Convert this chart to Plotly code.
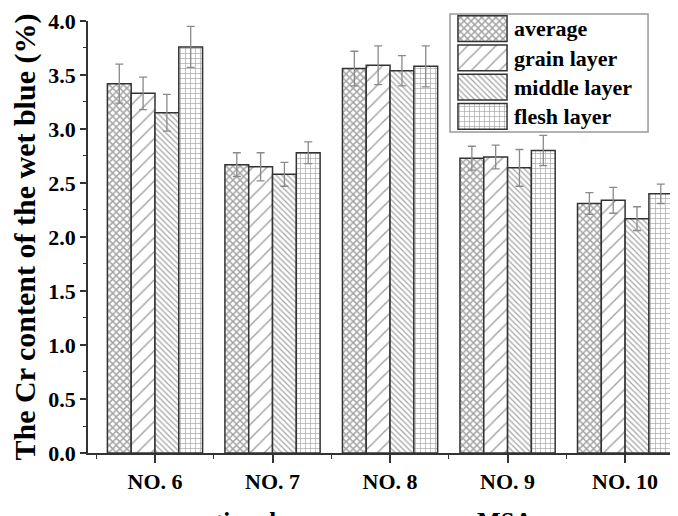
import plotly.graph_objects as go

categories = ["NO. 6", "NO. 7", "NO. 8", "NO. 9", "NO. 10"]
series_names = ["average", "grain layer", "middle layer", "flesh layer"]

average = [3.42, 2.67, 3.56, 2.73, 2.31]
average_err = [0.18, 0.11, 0.16, 0.11, 0.10]
grain = [3.33, 2.65, 3.59, 2.74, 2.34]
grain_err = [0.15, 0.13, 0.18, 0.11, 0.12]
middle = [3.15, 2.58, 3.54, 2.64, 2.17]
middle_err = [0.17, 0.11, 0.14, 0.17, 0.11]
flesh = [3.76, 2.78, 3.58, 2.80, 2.40]
flesh_err = [0.19, 0.10, 0.19, 0.14, 0.09]

group_labels = ["conventional", "MSA"]
group_centers = [0.45, 2.98]

values = [average, grain, middle, flesh]
errors = [average_err, grain_err, middle_err, flesh_err]
patterns = [
    dict(shape="x", size=5, solidity=0.5),
    dict(shape="/", size=10, solidity=0.15),
    dict(shape="\\", size=4, solidity=0.3),
    dict(shape="+", size=5, solidity=0.25),
]

FONT = "Liberation Serif"
xpos = list(range(len(categories)))

fig = go.Figure()
for name, vals, errs, pat in zip(series_names, values, errors, patterns):
    fig.add_trace(go.Bar(
        x=xpos, y=vals, name=name, showlegend=False,
        marker=dict(color="white", line=dict(color="#333333", width=1.5),
                    pattern=dict(fgcolor="#4a4a4a", bgcolor="white", **pat)),
        error_y=dict(type="data", array=errs, visible=True,
                     color="#8a8a8a", thickness=1.3, width=4),
    ))

# custom legend swatches
fig.add_trace(go.Bar(
    x=[1] * len(series_names), y=series_names, orientation="h", base=0,
    width=0.88, showlegend=False, xaxis="x2", yaxis="y2", hoverinfo="skip",
    marker=dict(color="white", line=dict(color="#333333", width=1.5),
                pattern=dict(fgcolor="#4a4a4a", bgcolor="white",
                             shape=[p["shape"] for p in patterns],
                             size=[p["size"] for p in patterns],
                             solidity=[p["solidity"] for p in patterns])),
))

axis_font = dict(family=FONT, size=22, color="black", weight="bold")

# page body has an 8px margin, so the figure is sized/offset to compensate
fig.update_layout(
    width=670, height=508,
    margin=dict(l=80, r=0, t=0, b=63),
    paper_bgcolor="white", plot_bgcolor="white",
    barmode="group", bargap=0.19, bargroupgap=0,
    font=dict(family=FONT, color="black"),
    xaxis=dict(
        automargin=False,
        range=[-0.57, 4.45], tickvals=xpos, ticktext=categories,
        ticks="outside", ticklen=8, tickwidth=1.5, tickcolor="#333333",
        minor=dict(tick0=0.5, dtick=1, ticks="outside", ticklen=4,
                   tickwidth=1.2, tickcolor="#333333"),
        showline=True, linecolor="#333333", linewidth=1.5,
        showgrid=False, zeroline=False, tickfont=axis_font,
    ),
    yaxis=dict(
        automargin=False,
        domain=[0, 0.9708], range=[0, 4], dtick=0.5, tickformat=".1f",
        ticks="outside", ticklen=6, tickwidth=1.5, tickcolor="#333333",
        minor=dict(dtick=0.25, ticks="outside", ticklen=3, tickwidth=1.2,
                   tickcolor="#333333"),
        showline=True, linecolor="#333333", linewidth=1.5,
        showgrid=False, zeroline=False, tickfont=axis_font,
        title=dict(text="The Cr content of the wet blue (%)", standoff=10,
                   font=dict(family=FONT, size=30, color="black", weight="bold")),
    ),
    xaxis2=dict(domain=[0.6254, 0.7119], range=[-0.02, 1.02], anchor="y2",
                visible=False, fixedrange=True, automargin=False),
    yaxis2=dict(domain=[0.7236, 0.9865], range=[3.5, -0.5], anchor="x2",
                type="category", side="right", showline=False, showgrid=False,
                zeroline=False, ticks="", ticklabelstandoff=5, automargin=False,
                tickfont=dict(family=FONT, size=22, color="black", weight="bold")),
    shapes=[dict(type="rect", xref="paper", yref="paper",
                 x0=0.6136, x1=0.9492, y0=0.7213, y1=0.9865,
                 line=dict(color="#999999", width=1.5), fillcolor="rgba(0,0,0,0)")],
)

for label, cx in zip(group_labels, group_centers):
    fig.add_annotation(x=cx, xref="x", y=-0.118, yref="paper", text=label,
                       showarrow=False, yanchor="top",
                       font=dict(family=FONT, size=25, color="black", weight="bold"))

fig.write_html("out.html")
